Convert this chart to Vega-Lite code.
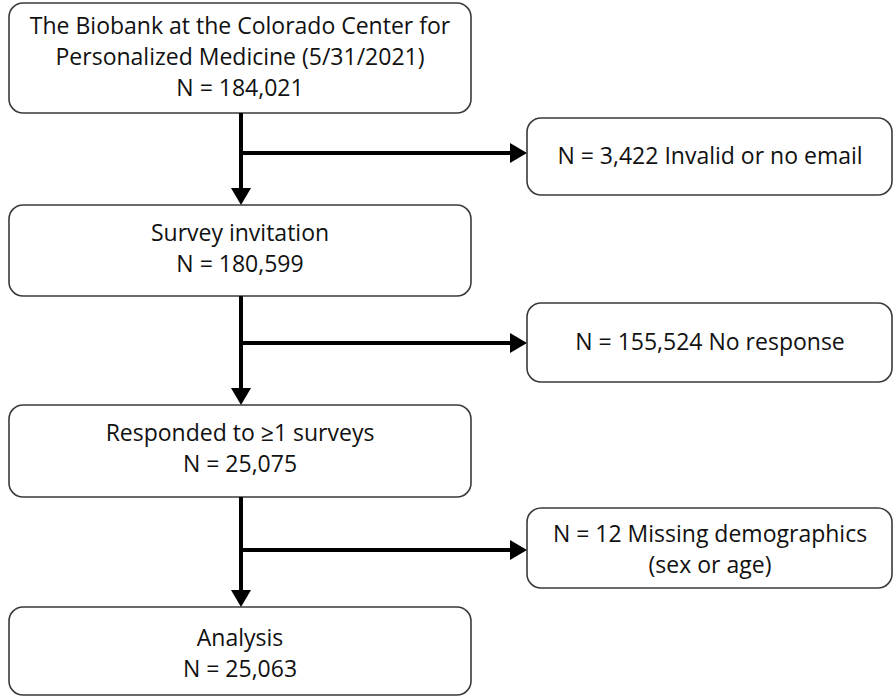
{
  "$schema": "https://vega.github.io/schema/vega-lite/v6.json",
  "width": 894,
  "height": 698,
  "autosize": {"type": "fit", "contains": "padding"},
  "padding": 0,
  "background": "white",
  "config": {"view": {"stroke": null}},
  "datasets": {
    "boxes": [
      {"id": "b1", "x0": 9, "x1": 471, "y0": 3, "y1": 113, "cx": 240, "cy": 27, "label": "The Biobank at the Colorado Center for\nPersonalized Medicine (5/31/2021)\nN = 184,021"},
      {"id": "b2", "x0": 9, "x1": 471, "y0": 205, "y1": 296, "cx": 240, "cy": 234, "label": "Survey invitation\nN = 180,599"},
      {"id": "b3", "x0": 9, "x1": 471, "y0": 405, "y1": 497, "cx": 240, "cy": 434, "label": "Responded to ≥1 surveys\nN = 25,075"},
      {"id": "b4", "x0": 9, "x1": 471, "y0": 607, "y1": 695, "cx": 240, "cy": 639, "label": "Analysis\nN = 25,063"},
      {"id": "r1", "x0": 527, "x1": 892, "y0": 118, "y1": 195, "cx": 710, "cy": 157, "label": "N = 3,422 Invalid or no email"},
      {"id": "r2", "x0": 527, "x1": 892, "y0": 303, "y1": 382, "cx": 710, "cy": 343, "label": "N = 155,524 No response"},
      {"id": "r3", "x0": 527, "x1": 892, "y0": 508, "y1": 588, "cx": 710, "cy": 535, "label": "N = 12 Missing demographics\n(sex or age)"}
    ],
    "links": [
      {"x0": 241, "x1": 241, "y0": 113, "y1": 193},
      {"x0": 241, "x1": 513, "y0": 153, "y1": 153},
      {"x0": 241, "x1": 241, "y0": 296, "y1": 393},
      {"x0": 241, "x1": 513, "y0": 343, "y1": 343},
      {"x0": 241, "x1": 241, "y0": 497, "y1": 595},
      {"x0": 241, "x1": 513, "y0": 550, "y1": 550}
    ],
    "arrows": [
      {"x": 241, "y": 205, "dir": "down"},
      {"x": 527, "y": 153, "dir": "right"},
      {"x": 241, "y": 405, "dir": "down"},
      {"x": 527, "y": 343, "dir": "right"},
      {"x": 241, "y": 607, "dir": "down"},
      {"x": 527, "y": 550, "dir": "right"}
    ]
  },
  "layer": [
    {
      "data": {"name": "boxes"},
      "mark": {"type": "rect", "cornerRadius": 14, "fill": "white", "stroke": "#3a3a3a", "strokeWidth": 1.6},
      "encoding": {
        "x": {"field": "x0", "type": "quantitative", "scale": {"domain": [0, 894], "nice": false, "zero": false}, "axis": null},
        "x2": {"field": "x1"},
        "y": {"field": "y0", "type": "quantitative", "scale": {"domain": [0, 698], "nice": false, "zero": false, "reverse": true}, "axis": null},
        "y2": {"field": "y1"}
      }
    },
    {
      "data": {"name": "links"},
      "mark": {"type": "rule", "color": "black", "strokeWidth": 4},
      "encoding": {
        "x": {"field": "x0", "type": "quantitative"},
        "x2": {"field": "x1"},
        "y": {"field": "y0", "type": "quantitative"},
        "y2": {"field": "y1"}
      }
    },
    {
      "data": {"name": "arrows"},
      "mark": {"type": "point", "filled": true, "color": "black", "opacity": 1, "size": 400, "strokeWidth": 0},
      "encoding": {
        "x": {"field": "x", "type": "quantitative"},
        "y": {"field": "y", "type": "quantitative"},
        "shape": {"field": "dir", "type": "nominal", "legend": null, "scale": {"domain": ["down", "right"], "range": ["M-1,-1.7L1,-1.7L0,0Z", "M0,0L-1.7,-1L-1.7,1Z"]}}
      }
    },
    {
      "data": {"name": "boxes"},
      "mark": {"type": "text", "align": "center", "baseline": "middle", "font": "Open Sans", "fontSize": 23, "lineHeight": 31, "lineBreak": "\n", "color": "#111111"},
      "encoding": {
        "x": {"field": "cx", "type": "quantitative"},
        "y": {"field": "cy", "type": "quantitative"},
        "text": {"field": "label"}
      }
    }
  ]
}
